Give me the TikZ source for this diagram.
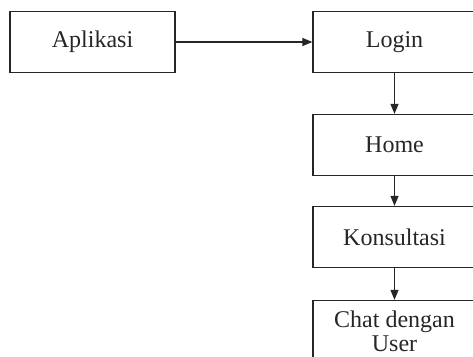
\documentclass[tikz,border=0pt]{standalone}
\usepackage{fontspec}
\setmainfont{Liberation Serif}
\usetikzlibrary{arrows.meta}
\begin{document}
\begin{tikzpicture}[x=1pt,y=-1pt,
  box/.style={draw=black!85, line width=1.3pt, minimum width=163pt, minimum height=61pt,
    inner sep=0pt, align=center, text=black!85, font=\fontsize{24}{24}\selectfont},
  link/.style={draw=black!85, line width=1.2pt, -{Triangle[length=10pt,width=8pt]}}]
\useasboundingbox (0,0) rectangle (473,356);
% boxes of the flow
\node[box, minimum width=165pt] (app) at (92.5,42) {Aplikasi};
\node[box] (login) at (394.5,42) {Login};
\node[box] (home) at (394.5,145) {Home};
\node[box] (kons) at (394.5,237) {Konsultasi};
\node[box] (chat) at (394.5,331) {Chat dengan\\User};
% connectors
\draw[link] (app) -- (login);
\draw[link] (login) -- (home);
\draw[link] (home) -- (kons);
\draw[link] (kons) -- (chat);
\end{tikzpicture}
\end{document}
